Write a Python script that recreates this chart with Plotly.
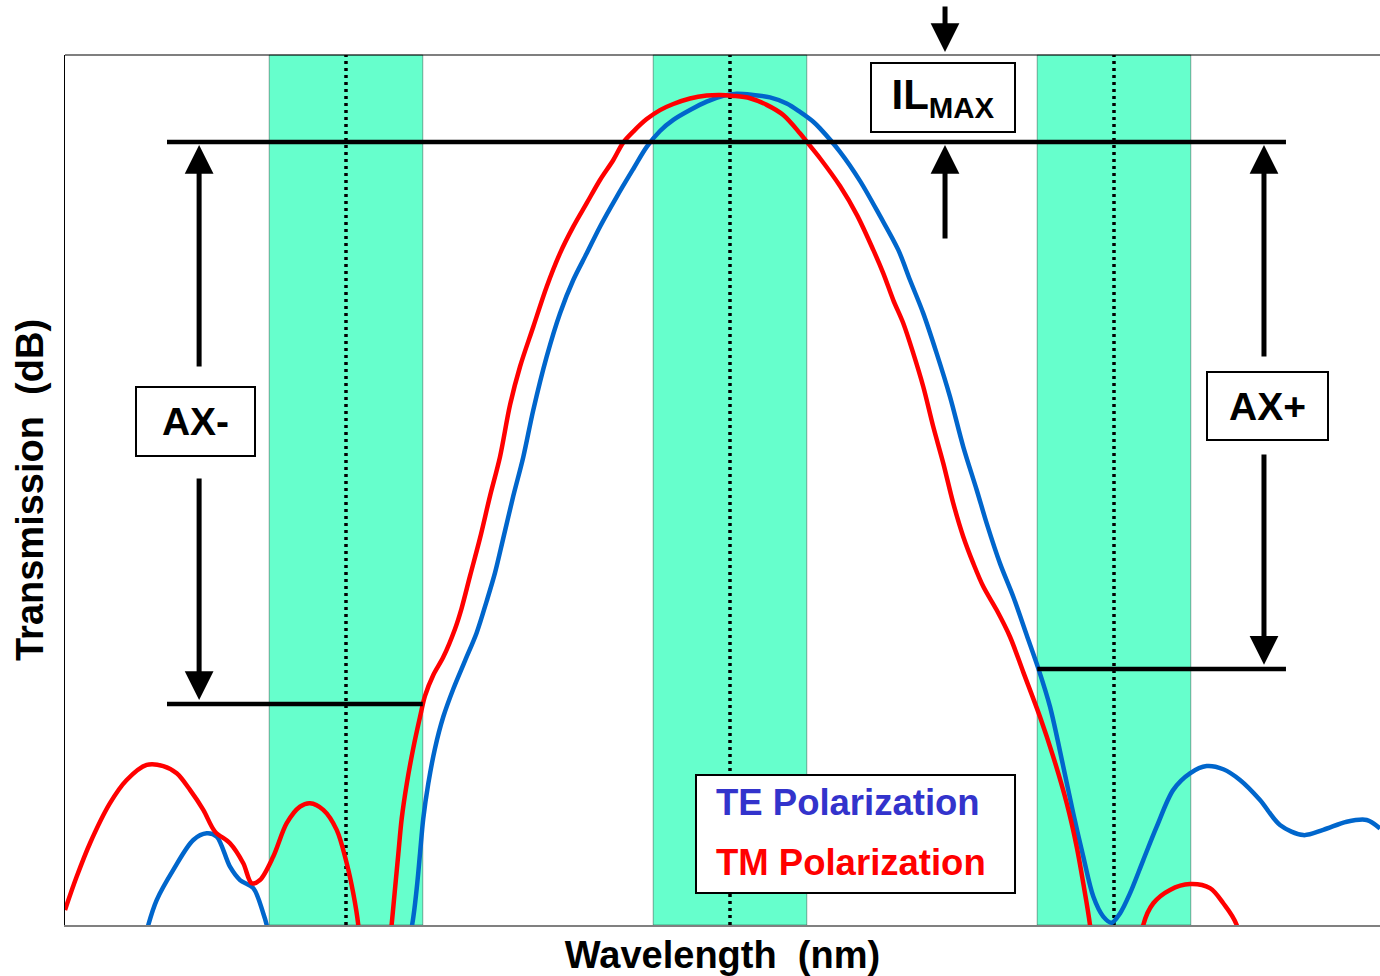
import plotly.graph_objects as go

# ---------------- data (wavelength in nm, transmission in dB) ----------------
te_wavelength = [1548.6146, 1548.7708, 1548.7881, 1548.8056, 1548.8402, 1548.8819, 1548.9098,
                 1548.9306, 1548.9583, 1548.9792, 1549.0069, 1549.0277, 1549.0348, 1549.0521,
                 1549.3125, 1549.3381, 1549.3473, 1549.3542, 1549.3610, 1549.3715, 1549.3854,
                 1549.4027, 1549.4235, 1549.4479, 1549.4723, 1549.4931, 1549.5104, 1549.5277,
                 1549.5485, 1549.5694, 1549.5902, 1549.6181, 1549.6458, 1549.6735, 1549.7015,
                 1549.7292, 1549.7640, 1549.7985, 1549.8265, 1549.8542, 1549.8819, 1549.9167,
                 1549.9515, 1549.9860, 1550.0140, 1550.0485, 1550.0833, 1550.1181, 1550.1458,
                 1550.1735, 1550.1875, 1550.2292, 1550.2708, 1550.3125, 1550.3506, 1550.3750,
                 1550.4027, 1550.4306, 1550.4583, 1550.4860, 1550.5140, 1550.5348, 1550.5625,
                 1550.5902, 1550.6181, 1550.6423, 1550.6667, 1550.6944, 1550.7152, 1550.7360,
                 1550.7569, 1550.7777, 1550.7952, 1550.8125, 1550.8333, 1550.8610, 1550.8890,
                 1550.9235, 1550.9583, 1550.9931, 1551.0277, 1551.0625, 1551.1042, 1551.1458,
                 1551.1944, 1551.2360, 1551.2848, 1551.3265, 1551.3542]
te_db = [-32.24, -31.21, -30.00, -29.14, -28.10, -27.07, -26.84,
         -26.95, -27.99, -28.45, -28.73, -29.60, -30.00, -31.90,
         -31.90, -29.96, -28.75, -27.54, -26.33, -25.12, -23.91,
         -22.82, -21.86, -20.89, -19.92, -18.83, -17.86, -16.66,
         -15.21, -13.86, -12.24, -10.40, -8.91, -7.76, -6.84,
         -5.92, -4.89, -3.93, -3.17, -2.62, -2.24, -1.90,
         -1.61, -1.41, -1.34, -1.38, -1.46, -1.67, -1.96,
         -2.30, -2.53, -3.34, -4.34, -5.55, -6.72, -7.76,
         -8.91, -10.29, -11.78, -13.51, -15.00, -16.15, -17.53,
         -18.68, -20.00, -21.15, -22.47, -24.54, -26.15, -27.64,
         -29.02, -29.71, -29.92, -29.60, -28.91, -27.76, -26.61,
         -25.34, -24.77, -24.52, -24.63, -25.00, -25.69, -26.55,
         -26.90, -26.72, -26.44, -26.38, -26.67]

tm_wavelength = [1548.6146, 1548.6390, 1548.6667, 1548.7083, 1548.7431, 1548.7848, 1548.8194,
                 1548.8473, 1548.8750, 1548.9027, 1548.9271, 1548.9583, 1548.9860, 1549.0035,
                 1549.0208, 1549.0485, 1549.0765, 1549.1042, 1549.1250, 1549.1527, 1549.1806,
                 1549.2015, 1549.2152, 1549.2256, 1549.2333, 1549.2833, 1549.2952, 1549.3021,
                 1549.3090, 1549.3160, 1549.3265, 1549.3402, 1549.3542, 1549.3646, 1549.3819,
                 1549.4027, 1549.4271, 1549.4410, 1549.4583, 1549.4792, 1549.5000, 1549.5208,
                 1549.5417, 1549.5625, 1549.5902, 1549.6181, 1549.6458, 1549.6735, 1549.7015,
                 1549.7292, 1549.7569, 1549.7771, 1549.7985, 1549.8265, 1549.8542, 1549.8819,
                 1549.9167, 1549.9515, 1549.9792, 1550.0069, 1550.0417, 1550.0765, 1550.1110,
                 1550.1458, 1550.1598, 1550.1875, 1550.2292, 1550.2646, 1550.2985, 1550.3194,
                 1550.3402, 1550.3610, 1550.3819, 1550.4027, 1550.4235, 1550.4444, 1550.4652,
                 1550.4860, 1550.5069, 1550.5277, 1550.5556, 1550.5833, 1550.6110, 1550.6458,
                 1550.6735, 1550.7015, 1550.7223, 1550.7360, 1550.7500, 1550.7604, 1550.8500,
                 1550.8610, 1550.8819, 1550.9167, 1550.9583, 1551.0000, 1551.0277, 1551.0556,
                 1551.0688, 1551.3542]
tm_db = [-29.48, -28.33, -27.18, -25.80, -25.00, -24.48, -24.52,
         -24.77, -25.34, -26.03, -26.78, -27.18, -27.87, -28.56,
         -28.45, -27.64, -26.49, -25.92, -25.80, -26.03, -26.72,
         -27.87, -28.91, -30.00, -31.90, -31.90, -29.97, -28.76,
         -27.55, -26.34, -25.14, -23.90, -22.83, -22.10, -21.38,
         -20.76, -19.79, -19.07, -17.97, -16.66, -15.21, -13.86,
         -12.07, -10.75, -9.37, -7.99, -6.84, -5.92, -5.11,
         -4.31, -3.62, -3.03, -2.64, -2.21, -1.90, -1.69,
         -1.50, -1.40, -1.38, -1.41, -1.49, -1.72, -2.07,
         -2.70, -2.99, -3.56, -4.52, -5.52, -6.72, -7.53,
         -8.45, -9.25, -10.29, -11.44, -12.82, -14.08, -15.46,
         -16.61, -17.53, -18.33, -19.14, -20.06, -21.28, -22.82,
         -24.20, -25.80, -27.30, -28.56, -30.00, -31.90, -31.90,
         -30.00, -29.25, -28.79, -28.59, -28.73, -29.25, -30.00,
         -31.90, -31.90]

channel_centers_nm = [1549.2, 1550.0, 1550.8]
passband_halfwidth_nm = 0.16
il_level_db = -3.0
ax_minus_level_db = -22.38
ax_plus_level_db = -21.17

x_range = [1548.6146, 1551.3542]
y_range = [-30.0, 0.0]

FONT = "Liberation Sans, Arial, sans-serif"
BLUE = "#0066CC"
RED = "#FF0000"

fig = go.Figure()
fig.add_trace(go.Scatter(x=te_wavelength, y=te_db, mode="lines", name="TE Polarization",
                         line=dict(color=BLUE, width=4.5, shape="spline", smoothing=0.9)))
fig.add_trace(go.Scatter(x=tm_wavelength, y=tm_db, mode="lines", name="TM Polarization",
                         line=dict(color=RED, width=4.5, shape="spline", smoothing=0.9)))

shapes = []
# passbands
for c in channel_centers_nm:
    shapes.append(dict(type="rect", xref="x", yref="paper", x0=c - passband_halfwidth_nm,
                       x1=c + passband_halfwidth_nm, y0=0, y1=1, fillcolor="#66FFCC",
                       line=dict(color="rgba(0,0,0,0.35)", width=1), layer="below"))
for c in channel_centers_nm:
    shapes.append(dict(type="line", xref="x", yref="paper", x0=c, x1=c, y0=0, y1=1,
                       line=dict(color="black", width=3.5, dash="3px,4px"), layer="below"))

# level lines
left_x = x_range[0] + 0.2125
right_x = x_range[0] + 2.5437
shapes.append(dict(type="line", xref="x", yref="y", x0=left_x, x1=right_x,
                   y0=il_level_db, y1=il_level_db, line=dict(color="black", width=4.5)))
shapes.append(dict(type="line", xref="x", yref="y", x0=left_x,
                   x1=channel_centers_nm[0] + passband_halfwidth_nm,
                   y0=ax_minus_level_db, y1=ax_minus_level_db, line=dict(color="black", width=4.5)))
shapes.append(dict(type="line", xref="x", yref="y", x0=channel_centers_nm[2] - passband_halfwidth_nm,
                   x1=right_x, y0=ax_plus_level_db, y1=ax_plus_level_db,
                   line=dict(color="black", width=4.5)))
# top border
shapes.append(dict(type="line", xref="paper", yref="paper", x0=0, x1=1, y0=1, y1=1,
                   line=dict(color="black", width=1.2)))
# legend frame
shapes.append(dict(type="rect", xref="x", yref="y", x0=1549.9292, x1=1550.5938, y0=-28.90, y1=-24.83,
                   fillcolor="white", line=dict(color="black", width=2)))

annotations = []


def arrow(x, y_tip, y_tail):
    annotations.append(dict(x=x, y=y_tip, ax=x, ay=y_tail, xref="x", yref="y", axref="x", ayref="y",
                            text="", showarrow=True, arrowhead=2, arrowsize=1.15, arrowwidth=5,
                            arrowcolor="black", standoff=0))


ax_minus_x = 1548.894
ax_plus_x = 1551.1125
il_x = 1550.448
arrow(ax_minus_x, -3.10, -10.79)
arrow(ax_minus_x, -22.24, -14.55)
arrow(ax_plus_x, -3.10, -10.45)
arrow(ax_plus_x, -21.03, -13.72)
arrow(il_x, -3.10, -6.38)
# arrow above the frame pointing down onto the top border
annotations.append(dict(x=il_x, y=1.0034, xref="x", yref="paper", ax=0, ay=-47, axref="pixel",
                        ayref="pixel", text="", showarrow=True, arrowhead=2, arrowsize=1.15,
                        arrowwidth=5, arrowcolor="black", standoff=0))


def box_label(x, y, text, w, h, size=39):
    annotations.append(dict(x=x, y=y, xref="x", yref="y", text=text, showarrow=False,
                            font=dict(family=FONT, size=size, color="black", weight="bold"),
                            bordercolor="black", borderwidth=2, borderpad=0, bgcolor="white",
                            width=w, height=h))


box_label(1550.4438, -1.47, "IL<sub>MAX</sub>", 142, 67, size=42)
box_label(1548.8865, -12.64, "AX-", 117, 67)
box_label(1551.1198, -12.10, "AX+", 119, 66)

for name, col, yy in [("TE Polarization", "#3333CC", -25.79), ("TM Polarization", RED, -27.86)]:
    annotations.append(dict(x=1549.9660, y=yy, xref="x", yref="y", text=name, showarrow=False,
                            xanchor="left",
                            font=dict(family=FONT, size=36.5, color=col, weight="bold")))

fig.update_layout(
    width=1380, height=976,
    margin=dict(l=65, r=0, t=55, b=51),
    paper_bgcolor="white", plot_bgcolor="white",
    showlegend=False,
    shapes=shapes, annotations=annotations,
    xaxis=dict(range=x_range, showticklabels=False, ticks="", showgrid=False, zeroline=False,
               showline=True, linecolor="#808080", linewidth=1.5,
               title=dict(text="Wavelength  (nm)", standoff=19,
                          font=dict(family=FONT, size=38, color="black", weight="bold"))),
    yaxis=dict(range=y_range, showticklabels=False, ticks="", showgrid=False, zeroline=False,
               showline=True, linecolor="black", linewidth=1.2,
               title=dict(text="Transmission  (dB)", standoff=8,
                          font=dict(family=FONT, size=38, color="black", weight="bold"))),
)

fig.write_html("out.html", config={"displayModeBar": False},
               post_script="document.body.style.margin='0';document.body.style.overflow='hidden';")
